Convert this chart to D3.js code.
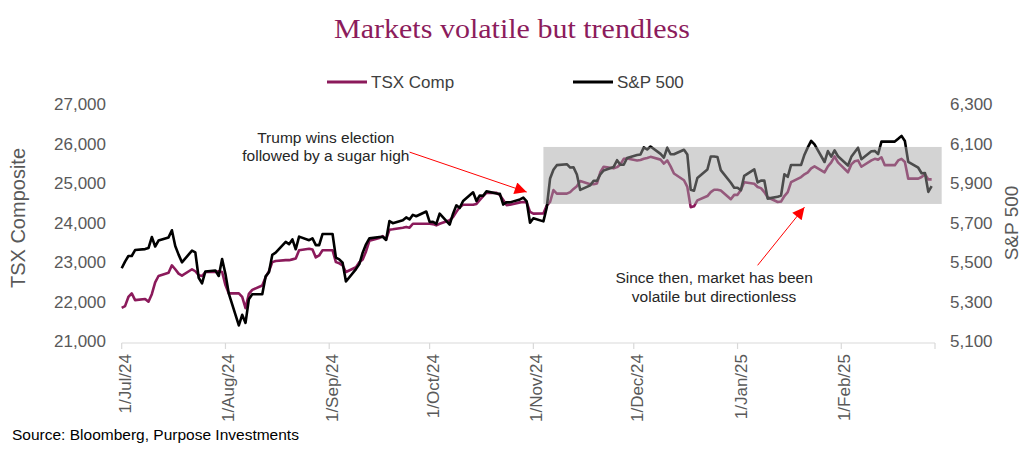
<!DOCTYPE html>
<html>
<head>
<meta charset="utf-8">
<script src="https://cdn.jsdelivr.net/npm/d3@7"></script>
<style>
  html, body { margin: 0; padding: 0; background: #ffffff; }
  svg { display: block; }
</style>
</head>
<body>
<svg id="chart" width="1024" height="462"></svg>
<script>
// ---------------- DATA ----------------
const dates = [
  "2024-07-01","2024-07-02","2024-07-03","2024-07-04","2024-07-05","2024-07-08","2024-07-09","2024-07-10","2024-07-11","2024-07-12",
  "2024-07-15","2024-07-16","2024-07-17","2024-07-18","2024-07-19","2024-07-22","2024-07-23","2024-07-24","2024-07-25","2024-07-26",
  "2024-07-29","2024-07-30","2024-07-31",
  "2024-08-01","2024-08-02","2024-08-05","2024-08-06","2024-08-07","2024-08-08","2024-08-09","2024-08-12","2024-08-13","2024-08-14",
  "2024-08-15","2024-08-16","2024-08-19","2024-08-20","2024-08-21","2024-08-22","2024-08-23","2024-08-26","2024-08-27","2024-08-28",
  "2024-08-29","2024-08-30",
  "2024-09-02","2024-09-03","2024-09-04","2024-09-05","2024-09-06","2024-09-09","2024-09-10","2024-09-11","2024-09-12","2024-09-13",
  "2024-09-16","2024-09-17","2024-09-18","2024-09-19","2024-09-20","2024-09-23","2024-09-24","2024-09-25","2024-09-26","2024-09-27",
  "2024-09-30",
  "2024-10-01","2024-10-02","2024-10-03","2024-10-04","2024-10-07","2024-10-08","2024-10-09","2024-10-10","2024-10-11","2024-10-14",
  "2024-10-15","2024-10-16","2024-10-17","2024-10-18","2024-10-21","2024-10-22","2024-10-23","2024-10-24","2024-10-25","2024-10-28",
  "2024-10-29","2024-10-30","2024-10-31",
  "2024-11-01","2024-11-04","2024-11-05","2024-11-06","2024-11-07","2024-11-08","2024-11-11","2024-11-12","2024-11-13","2024-11-14",
  "2024-11-15","2024-11-18","2024-11-19","2024-11-20","2024-11-21","2024-11-22","2024-11-25","2024-11-26","2024-11-27","2024-11-28",
  "2024-11-29",
  "2024-12-02","2024-12-03","2024-12-04","2024-12-05","2024-12-06","2024-12-09","2024-12-10","2024-12-11","2024-12-12","2024-12-13",
  "2024-12-16","2024-12-17","2024-12-18","2024-12-19","2024-12-20","2024-12-23","2024-12-24","2024-12-25","2024-12-26","2024-12-27",
  "2024-12-30","2024-12-31",
  "2025-01-01","2025-01-02","2025-01-03","2025-01-06","2025-01-07","2025-01-08","2025-01-09","2025-01-10","2025-01-13","2025-01-14",
  "2025-01-15","2025-01-16","2025-01-17","2025-01-20","2025-01-21","2025-01-22","2025-01-23","2025-01-24","2025-01-27","2025-01-28",
  "2025-01-29","2025-01-30","2025-01-31",
  "2025-02-03","2025-02-04","2025-02-05","2025-02-06","2025-02-07","2025-02-10","2025-02-11","2025-02-12","2025-02-13","2025-02-14",
  "2025-02-17","2025-02-18","2025-02-19","2025-02-20","2025-02-21","2025-02-24","2025-02-25","2025-02-26","2025-02-27","2025-02-28"
];

const tsxComp = [
  21876,21920,22150,22240,22070,22100,22030,22220,22520,22680,
  22760,22950,22850,22740,22690,22850,22800,22700,22680,22780,
  22780,22800,22780,
  22450,22240,22240,22150,21870,22230,22330,22440,22650,22800,
  23030,23060,23080,23080,23100,23120,23330,23370,23350,23150,
  23200,23330,
  23330,23030,23000,22950,22780,22900,23030,23100,23300,23570,
  23640,23690,23600,23850,23860,23900,23920,23900,24000,24000,
  24000,
  24000,23990,23960,24000,24090,24170,24300,24420,24480,24480,
  24500,24600,24700,24780,24780,24720,24600,24470,24480,24540,
  24550,24540,24300,
  24255,24260,24460,24550,24850,24760,24760,24800,24880,24950,
  25080,25000,25000,25020,25300,25440,25400,25430,25500,25640,
  25650,
  25600,25610,25640,25660,25690,25620,25520,25600,25450,25270,
  25100,24930,24420,24440,24590,24700,24800,24860,24860,24840,
  24620,24730,
  24730,24850,25050,25010,24930,24900,24800,24670,24550,24560,
  24700,24800,25050,25180,25250,25300,25400,25450,25300,25450,
  25550,25700,25550,
  25300,25500,25580,25600,25440,25600,25640,25620,25680,25480,
  25480,25600,25640,25560,25140,25140,25180,25250,25120,25120
];

const sp500 = [
  5475,5509,5537,5537,5567,5572,5577,5633,5585,5615,
  5631,5667,5588,5544,5505,5564,5555,5427,5399,5459,
  5464,5436,5522,
  5446,5347,5186,5240,5199,5319,5344,5344,5434,5455,
  5543,5554,5608,5597,5621,5571,5635,5617,5626,5592,
  5592,5648,
  5648,5529,5520,5503,5408,5471,5496,5554,5596,5626,
  5633,5634,5618,5714,5703,5718,5732,5722,5745,5738,
  5762,
  5709,5710,5699,5751,5696,5751,5793,5780,5815,5859,
  5815,5843,5841,5864,5853,5851,5797,5809,5808,5823,
  5832,5813,5705,
  5728,5712,5782,5929,5973,5996,6001,5984,5985,5949,
  5871,5894,5917,5917,5949,5969,5987,6021,5998,5998,
  6032,
  6047,6050,6086,6075,6090,6053,6034,6084,6051,6051,
  6074,6050,5872,5867,5931,5974,6040,6040,6037,5971,
  5907,5882,
  5882,5869,5942,5975,5909,5918,5918,5827,5836,5843,
  5950,5937,5997,5997,6049,6086,6119,6101,6012,6067,
  6039,6071,6041,
  5994,6038,6061,6084,6026,6066,6068,6052,6115,6115,
  6115,6129,6144,6118,6013,5983,5955,5956,5861,5890
];

const seriesNames = ["TSX Comp", "S&P 500"];
const leftTicks = [21000, 22000, 23000, 24000, 25000, 26000, 27000];
const rightTicks = [5100, 5300, 5500, 5700, 5900, 6100, 6300];
const xTickDates = ["2024-07-01","2024-08-01","2024-09-01","2024-10-01","2024-11-01","2024-12-01","2025-01-01","2025-02-01","2025-03-01"];
const xTickLabels = ["1/Jul/24","1/Aug/24","1/Sep/24","1/Oct/24","1/Nov/24","1/Dec/24","1/Jan/25","1/Feb/25",""];

// annotation anchors in data units (date, S&P value)
const rangeBox = { from: "2024-11-04", to: "2025-03-03", low: 5800, high: 6088 };
const note1 = { lines: ["Trump wins election", "followed by a sugar high"], at: "2024-08-31", from: ["2024-09-25", 6062], to: ["2024-10-30", 5860] };
const note2 = { lines: ["Since then, market has been", "volatile but directionless"], at: "2024-12-25", from: ["2025-01-07", 5490], to: ["2025-01-21", 5784] };

// ---------------- CHART ----------------
const parse = d3.timeParse("%Y-%m-%d");
const svg = d3.select("#chart");

const x = d3.scaleTime().domain([parse("2024-07-01"), parse("2025-03-01")]).range([121.7, 935]);
const yL = d3.scaleLinear().domain([21000, 27000]).range([342.5, 105]);
const yR = d3.scaleLinear().domain([5100, 6300]).range([342.5, 105]);

const purple = "#8b1a5b";
const axisText = "#595959";
const font = "'Liberation Sans', Arial, sans-serif";

// Title
svg.append("text")
  .attr("x", 512).attr("y", 38)
  .attr("text-anchor", "middle")
  .attr("font-family", "'Liberation Serif', 'DejaVu Serif', serif")
  .attr("font-size", 28)
  .attr("textLength", 356).attr("lengthAdjust", "spacingAndGlyphs")
  .attr("fill", "#8c1c5c")
  .text("Markets volatile but trendless");

// Legend
const legend = svg.append("g").attr("font-family", font).attr("font-size", 17).attr("fill", "#404040");
[[327, purple, seriesNames[0]], [573, "#000000", seriesNames[1]]].forEach(([lx, c, name]) => {
  legend.append("line").attr("x1", lx).attr("x2", lx + 40).attr("y1", 82).attr("y2", 82)
    .attr("stroke", c).attr("stroke-width", 3);
  legend.append("text").attr("x", lx + 44).attr("y", 82).attr("dy", "0.35em").text(name);
});

// Left axis labels
svg.append("g").selectAll("text").data(leftTicks).join("text")
  .attr("x", 106).attr("y", d => yL(d) - 1).attr("dy", "0.35em")
  .attr("text-anchor", "end")
  .attr("font-family", font).attr("font-size", 17).attr("fill", axisText)
  .text(d => d3.format(",")(d));

// Right axis labels
svg.append("g").selectAll("text").data(rightTicks).join("text")
  .attr("x", 950).attr("y", d => yR(d) - 1).attr("dy", "0.35em")
  .attr("text-anchor", "start")
  .attr("font-family", font).attr("font-size", 17).attr("fill", axisText)
  .text(d => d3.format(",")(d));

// Axis titles
svg.append("text")
  .attr("transform", "translate(18,218) rotate(-90)")
  .attr("text-anchor", "middle").attr("dy", "0.35em")
  .attr("font-family", font).attr("font-size", 20).attr("fill", axisText)
  .text("TSX Composite");
svg.append("text")
  .attr("transform", "translate(1011,223) rotate(-90)")
  .attr("text-anchor", "middle").attr("dy", "0.35em")
  .attr("font-family", font).attr("font-size", 19).attr("fill", axisText)
  .text("S&P 500");

// X axis
const xAxisY = 343;
const xg = svg.append("g");
xg.append("line").attr("x1", x.range()[0]).attr("x2", x.range()[1]).attr("y1", xAxisY).attr("y2", xAxisY)
  .attr("stroke", "#d9d9d9").attr("stroke-width", 1.2);
xg.selectAll("line.tick").data(xTickDates).join("line").attr("class", "tick")
  .attr("x1", d => x(parse(d))).attr("x2", d => x(parse(d)))
  .attr("y1", xAxisY).attr("y2", xAxisY + 6)
  .attr("stroke", "#d9d9d9").attr("stroke-width", 1.2);
xg.selectAll("text").data(xTickDates.map((d, i) => [d, xTickLabels[i]]).filter(d => d[1])).join("text")
  .attr("transform", d => `translate(${x(parse(d[0]))},354) rotate(-90)`)
  .attr("text-anchor", "end").attr("dy", 9)
  .attr("font-family", font).attr("font-size", 17).attr("fill", axisText)
  .text(d => d[1]);

// Lines
const rows = dates.map((d, i) => ({ date: parse(d), tsx: tsxComp[i], spx: sp500[i] }));
svg.append("path").datum(rows)
  .attr("fill", "none").attr("stroke", purple).attr("stroke-width", 2.6).attr("stroke-linejoin", "round")
  .attr("d", d3.line().x(d => x(d.date)).y(d => yL(d.tsx)));
svg.append("path").datum(rows)
  .attr("fill", "none").attr("stroke", "#000000").attr("stroke-width", 2.6).attr("stroke-linejoin", "round")
  .attr("d", d3.line().x(d => x(d.date)).y(d => yR(d.spx)));

// Range box (semi-transparent, over the lines)
svg.append("rect")
  .attr("x", x(parse(rangeBox.from)))
  .attr("y", yR(rangeBox.high))
  .attr("width", x(parse(rangeBox.to)) - x(parse(rangeBox.from)))
  .attr("height", yR(rangeBox.low) - yR(rangeBox.high))
  .attr("fill", "rgb(162,162,162)").attr("fill-opacity", 0.47);

// Arrow marker
svg.append("defs").append("marker")
  .attr("id", "arrow").attr("viewBox", "0 0 10 10")
  .attr("refX", 10).attr("refY", 5)
  .attr("markerUnits", "userSpaceOnUse")
  .attr("markerWidth", 14).attr("markerHeight", 12)
  .attr("orient", "auto")
  .append("path").attr("d", "M0,0 L10,5 L0,10 Z").attr("fill", "#ff0000");

function note(n, y0, gap) {
  const cx = x(parse(n.at));
  const g = svg.append("g").attr("font-family", font).attr("font-size", 15.5).attr("fill", "#262626");
  n.lines.forEach((t, i) => {
    g.append("text").attr("x", cx).attr("y", y0 + i * gap).attr("dy", "0.35em")
      .attr("text-anchor", "middle").text(t);
  });
  svg.append("line")
    .attr("x1", x(parse(n.from[0]))).attr("y1", yR(n.from[1]))
    .attr("x2", x(parse(n.to[0]))).attr("y2", yR(n.to[1]))
    .attr("stroke", "#ff0000").attr("stroke-width", 1)
    .attr("marker-end", "url(#arrow)");
}
note(note1, 138, 18);
note(note2, 278, 19);

// Source
svg.append("text")
  .attr("x", 12).attr("y", 440)
  .attr("font-family", font).attr("font-size", 15.5).attr("fill", "#000000")
  .text("Source: Bloomberg, Purpose Investments");
</script>
</body>
</html>
